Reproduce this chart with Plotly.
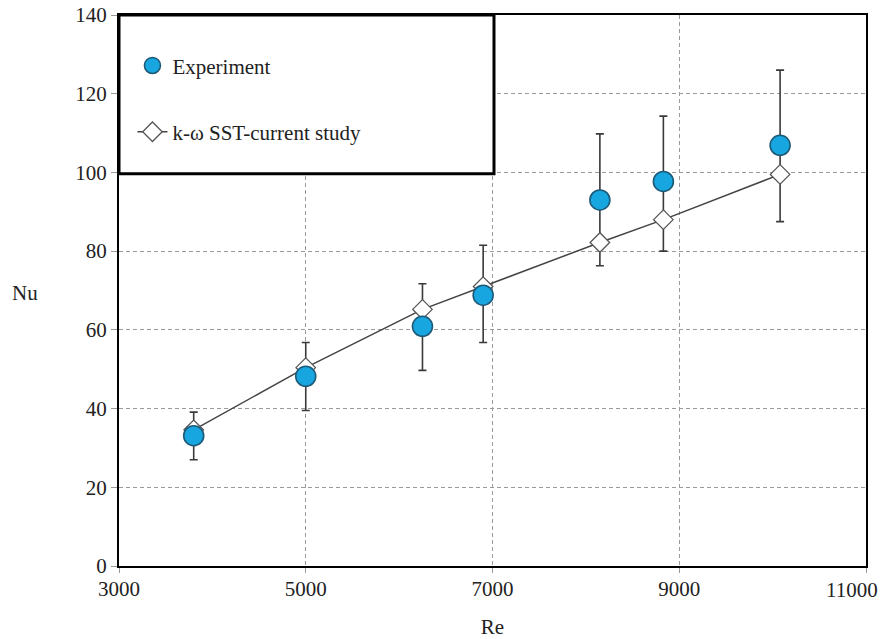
import plotly.graph_objects as go

# Data
re_values = [3800, 5000, 6250, 6900, 8150, 8830, 10080]
nu_experiment = [33.1, 48.2, 60.9, 68.8, 93.0, 97.7, 106.9]
err_plus = [6.0, 8.6, 10.8, 12.7, 16.8, 16.6, 19.1]
err_minus = [6.1, 8.7, 11.2, 12.0, 16.7, 17.7, 19.4]
nu_sst = [34.6, 50.4, 65.2, 71.0, 82.2, 88.0, 99.5]

x_ticks = [3000, 5000, 7000, 9000, 11000]
y_ticks = [0, 20, 40, 60, 80, 100, 120, 140]

FONT = "Liberation Serif"
TXT = "#222222"
FS = 21

fig = go.Figure()

# error bars of the experiment (drawn underneath the simulation markers)
fig.add_trace(go.Scatter(
    x=re_values, y=nu_experiment, mode="markers",
    marker=dict(size=1, color="rgba(0,0,0,0)"),
    error_y=dict(type="data", symmetric=False, array=err_plus, arrayminus=err_minus,
                 color="#3a3a3a", thickness=1.6, width=4),
    showlegend=False, hoverinfo="skip"))

fig.add_trace(go.Scatter(
    x=re_values, y=nu_sst, mode="lines+markers", name="k-ω SST-current study",
    line=dict(color="#444444", width=1.5),
    marker=dict(symbol="diamond", size=15, color="white",
                line=dict(color="#555555", width=1.3)),
    legendrank=2, legendgroup="sim"))

fig.add_trace(go.Scatter(
    x=re_values, y=nu_experiment, mode="markers", name="Experiment",
    marker=dict(symbol="circle", size=20, color="#17a6e0",
                line=dict(color="#1d5a78", width=1.6)),
    legendrank=1, legendgroup="exp"))

# last x tick label is placed as an annotation nudged left so it stays in the window
x_ticktext = [str(v) for v in x_ticks[:-1]] + [""]

# page has an 8px body margin, so the figure is sized/margined to compensate
fig.update_layout(
    width=882, height=631,
    margin=dict(l=111, r=24, t=7, b=73, autoexpand=False),
    paper_bgcolor="white", plot_bgcolor="white",
    font=dict(family=FONT, size=FS, color=TXT),
    showlegend=True,
    legend=dict(x=0.018, y=0.945, xanchor="left", yanchor="top",
                bgcolor="rgba(0,0,0,0)", borderwidth=0,
                font=dict(family=FONT, size=FS, color=TXT),
                tracegroupgap=36, itemwidth=30,
                traceorder="grouped"),
    shapes=[dict(type="rect", xref="paper", yref="paper",
                 x0=0, x1=0.502, y0=0.712, y1=1.0,
                 fillcolor="white", line=dict(color="black", width=3),
                 layer="above")],
    annotations=[
        dict(text="Nu", xref="paper", yref="paper", x=-0.126, y=0.495,
             xanchor="center", yanchor="middle", showarrow=False,
             font=dict(family=FONT, size=FS, color=TXT)),
        dict(text=str(x_ticks[-1]), xref="x", yref="paper", x=x_ticks[-1], y=0,
             xanchor="right", yanchor="middle", xshift=14, yshift=-24,
             showarrow=False, font=dict(family=FONT, size=FS, color=TXT)),
    ],
)

fig.update_xaxes(
    range=[3000, 11000], tickvals=x_ticks, ticktext=x_ticktext,
    showgrid=True, gridcolor="#9a9a9a", griddash="4px,3px", gridwidth=1.2,
    showline=True, linecolor="black", linewidth=2, mirror=True,
    ticks="outside", ticklen=5, tickcolor="#9a9a9a", zeroline=False,
    tickfont=dict(family=FONT, size=FS, color=TXT), automargin=False,
    ticklabeloverflow="allow", ticklabelstandoff=-2,
    title=dict(text="Re", standoff=19, font=dict(family=FONT, size=FS, color=TXT)),
)
fig.update_yaxes(
    range=[0, 140], tickvals=y_ticks,
    showgrid=True, gridcolor="#9a9a9a", griddash="4px,3px", gridwidth=1.2,
    showline=True, linecolor="black", linewidth=2, mirror=True,
    ticks="outside", ticklen=6, tickcolor="#9a9a9a", zeroline=False,
    tickfont=dict(family=FONT, size=FS, color=TXT), automargin=False,
    ticklabeloverflow="allow",
)

fig.write_html("out.html")
